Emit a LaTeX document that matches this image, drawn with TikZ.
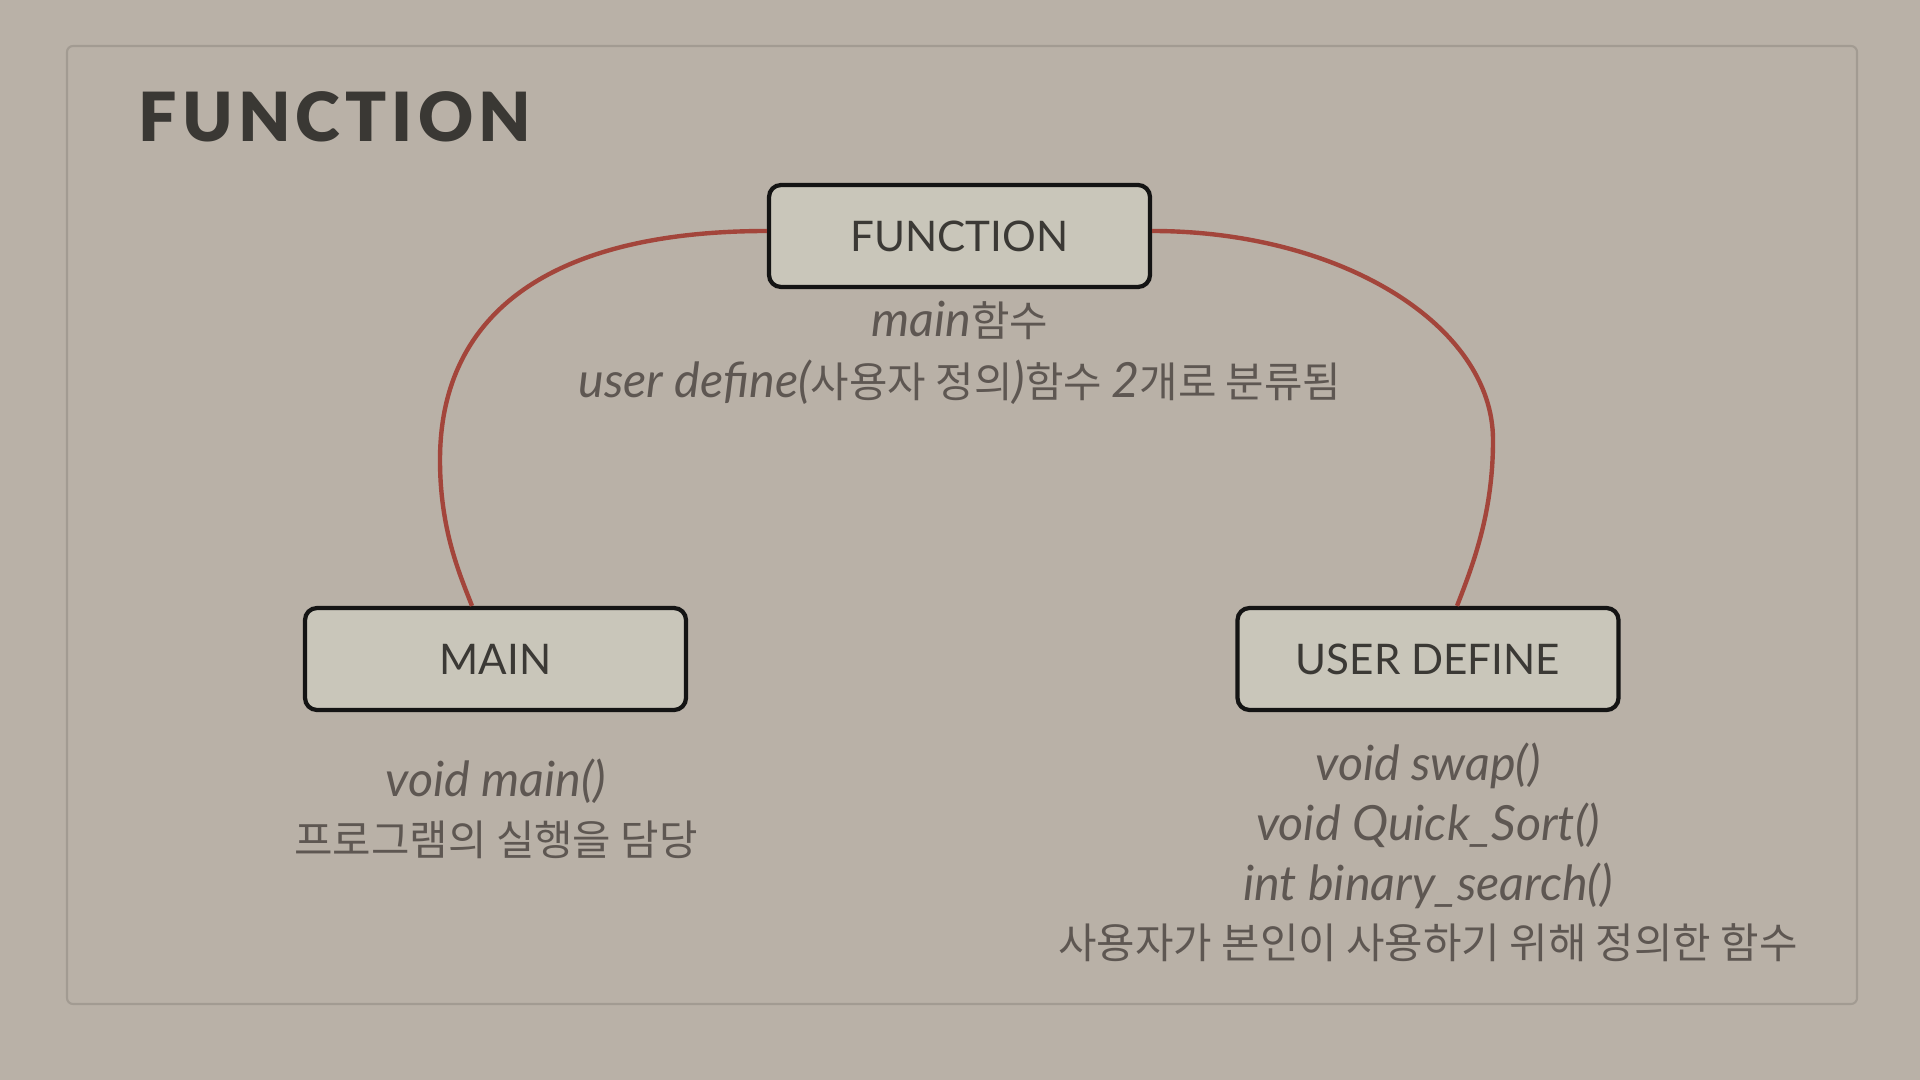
\documentclass[tikz,border=0pt]{standalone}
\usepackage{fontspec}
\usepackage{xcolor}
\usepackage{tikz}
\setmainfont{Lato}
\newfontfamily\krfont{Noto Sans CJK KR}
\newfontfamily\titlefont{Lato}[UprightFont=* Black, LetterSpace=7.5]
\newcommand\itx[1]{{\rmfamily\itshape\fontsize{13.8}{16}\selectfont #1}}
\definecolor{paper}{HTML}{B9B1A7}
\definecolor{panelline}{HTML}{A29B92}
\definecolor{boxfill}{HTML}{C9C6BA}
\definecolor{boxline}{HTML}{141414}
\definecolor{boxtext}{HTML}{3B3935}
\definecolor{desctext}{HTML}{5E5752}
\definecolor{titletext}{HTML}{3A3834}
\definecolor{linkred}{HTML}{A3453B}

\begin{document}
\begin{tikzpicture}
	\fill[paper] (0,0) rectangle (19.2,-10.8);
	\useasboundingbox (0,0) rectangle (19.2,-10.8);
	\draw[panelline, line width=0.6pt, rounded corners=0.06cm] (0.67,-0.46) rectangle (18.57,-10.04);
	\node[anchor=west, inner sep=0pt, text=titletext, font=\titlefont\fontsize{19.3}{22}\selectfont] (title) at (1.38,-1.165) {FUNCTION};
	\tikzstyle{box}=[draw=boxline, line width=1.2pt, fill=boxfill, rounded corners=0.12cm, minimum width=3.81cm, minimum height=1.02cm, text=boxtext, font=\fontsize{12}{14}\selectfont]
	\node[box] (fn) at (9.595,-2.36) {FUNCTION};
	\node[box] (main) at (4.955,-6.59) {MAIN};
	\node[box] (user) at (14.28,-6.59) {USER DEFINE};
	\tikzstyle{desc}=[anchor=base, inner sep=0pt, text=desctext, font=\krfont\fontsize{11.9}{14}\selectfont]
	\node[desc] (fnA) at (9.60,-3.37) {\itx{main}함수};
	\node[desc] (fnB) at (9.60,-3.98) {\itx{user define(}사용자 정의\itx{)}함수 \itx{2}개로 분류됨};
	\node[desc] (mainA) at (4.96,-7.96) {\itx{void main()}};
	\node[desc] (mainB) at (4.96,-8.55) {프로그램의 실행을 담당};
	\node[desc] (userA) at (14.28,-7.80) {\itx{void swap()}};
	\node[desc] (userB) at (14.28,-8.40) {\itx{void Quick\_Sort()}};
	\node[desc] (userC) at (14.28,-9.00) {\itx{int binary\_search()}};
	\node[desc] (userD) at (14.28,-9.58) {사용자가 본인이 사용하기 위해 정의한 함수};
	\tikzstyle{link}=[draw=linkred, line width=1.25pt]
	\draw[link] ([yshift=0.05cm]fn.west) .. controls (5.54,-2.31) and (4.40,-3.11) .. (4.40,-4.60)
			.. controls (4.40,-5.30) and (4.60,-5.75) .. ([xshift=-0.235cm]main.north);
	\draw[link] ([yshift=0.05cm]fn.east) .. controls (13.40,-2.31) and (14.93,-3.25) .. (14.93,-4.40)
			.. controls (14.93,-5.10) and (14.75,-5.60) .. ([xshift=0.29cm]user.north);
\end{tikzpicture}
\end{document}
